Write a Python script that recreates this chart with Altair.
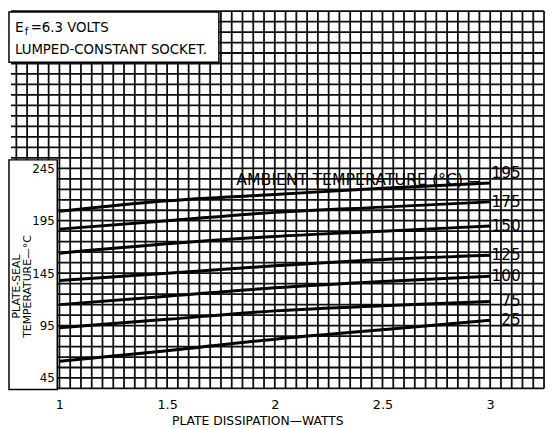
import altair as alt
import pandas as pd
import numpy as np

# ---- data ----
watts = [1.0, 1.5, 2.0, 2.5, 3.0]
ambient = ["195", "175", "150", "125", "100", "75", "25"]
t195 = [204, 214, 220, 226, 231]
t175 = [187, 195, 203, 208, 213]
t150 = [164, 173, 180, 185, 190]
t125 = [138, 145, 152, 158, 162]
t100 = [115, 123, 131, 137, 142]
t75 = [93, 101, 109, 114, 118]
t25 = [61, 71, 82, 91, 100]

x_ticks = [1, 1.5, 2, 2.5, 3]
y_ticks = [45, 95, 145, 195, 245]

# graph-paper grid lines
grid_x = np.round(np.arange(0.8, 3.2501, 0.05), 2)
grid_y = np.arange(35, 396, 10)

rows = []
for name, vals in zip(ambient, [t195, t175, t150, t125, t100, t75, t25]):
    for w, t in zip(watts, vals):
        rows.append({"amb": name, "w": w, "t": t})
df = pd.DataFrame(rows)
df_end = df[df["w"] == watts[-1]]
df_end_rest = df_end[df_end["amb"] != "195"]
df_end_195 = df_end[df_end["amb"] == "195"]

FONT = "DejaVu Sans"
XS = alt.Scale(domain=[0.775, 3.25], nice=False, zero=False)
YS = alt.Scale(domain=[35, 395], nice=False, zero=False)

XAX = alt.Axis(
    values=x_ticks, format="~g", grid=False, ticks=False, domain=False,
    labelFont=FONT, labelFontSize=13, labelColor="black", labelPadding=10,
    title="PLATE DISSIPATION—WATTS", titleFont=FONT, titleFontSize=12.5,
    titleFontWeight="normal", titleColor="black", titlePadding=4, titleX=250,
    zindex=1)
YAX = alt.Axis(
    values=y_ticks, format="d", offset=-49, grid=False, ticks=False, domain=False,
    labelFont=FONT, labelFontSize=12, labelColor="black", labelPadding=5,
    title=["PLATE-SEAL", "TEMPERATURE—°C"], titleFont=FONT, titleFontSize=11,
    titleFontWeight="normal", titleColor="black", titleX=-43, titleY=279,
    titleAlign="center", titleBaseline="middle", titleAngle=270, titleLineHeight=11,
    zindex=1)

GRID_C = "#0d0d0d"
vgrid = alt.Chart(pd.DataFrame({"gx": grid_x})).mark_rule(
    color=GRID_C, strokeWidth=1.8
).encode(x=alt.X("gx:Q", scale=XS, axis=XAX))

hgrid = alt.Chart(pd.DataFrame({"gy": grid_y})).mark_rule(
    color=GRID_C, strokeWidth=1.8
).encode(y=alt.Y("gy:Q", scale=YS, axis=YAX))

one = pd.DataFrame({"k": [0]})
box_top = alt.Chart(one).mark_rect(fill="white", stroke="black", strokeWidth=1.5).encode(
    x=alt.value(-2), x2=alt.value(211), y=alt.value(1), y2=alt.value(52)
)
box_left = alt.Chart(one).mark_rect(fill="white", stroke="black", strokeWidth=1.5).encode(
    x=alt.value(-2), x2=alt.value(47), y=alt.value(151), y2=alt.value(384)
)

hdr_e = alt.Chart(one).mark_text(font=FONT, fontSize=14, align="left", baseline="middle", color="black").encode(
    x=alt.value(4), y=alt.value(17), text=alt.value("E"))
hdr_f = alt.Chart(one).mark_text(font=FONT, fontSize=10, align="left", baseline="middle", color="black").encode(
    x=alt.value(14), y=alt.value(21), text=alt.value("f"))
hdr_v = alt.Chart(one).mark_text(font=FONT, fontSize=13.5, align="left", baseline="middle", color="black").encode(
    x=alt.value(20), y=alt.value(17), text=alt.value("=6.3 VOLTS"))
hdr_s = alt.Chart(one).mark_text(font=FONT, fontSize=13.5, align="left", baseline="middle", color="black").encode(
    x=alt.value(4), y=alt.value(40), text=alt.value("LUMPED-CONSTANT SOCKET."))

curves = alt.Chart(df).mark_line(color="black", strokeWidth=3, interpolate="monotone").encode(
    x=alt.X("w:Q", scale=XS, axis=XAX),
    y=alt.Y("t:Q", scale=YS, axis=YAX),
    detail="amb:N",
)

labels = alt.Chart(df_end_rest).mark_text(
    font=FONT, fontSize=15.5, align="right", baseline="middle", dx=31, color="black"
).encode(x=alt.X("w:Q", scale=XS, axis=XAX), y=alt.Y("t:Q", scale=YS, axis=YAX), text="amb:N")

label195 = alt.Chart(df_end_195).mark_text(
    font=FONT, fontSize=15.5, align="right", baseline="middle", dx=31, dy=-10, color="black"
).encode(x=alt.X("w:Q", scale=XS, axis=XAX), y=alt.Y("t:Q", scale=YS, axis=YAX), text="amb:N")

annot = alt.Chart(df_end_195).mark_text(
    font=FONT, fontSize=16, align="right", baseline="middle", dx=-9, dy=-3, color="black"
).encode(x=alt.X("w:Q", scale=XS, axis=XAX), y=alt.Y("t:Q", scale=YS, axis=YAX),
         text=alt.value("AMBIENT TEMPERATURE (°C) ="))

chart = alt.layer(
    vgrid, hgrid, box_top, box_left, hdr_e, hdr_f, hdr_v, hdr_s,
    curves, labels, label195, annot
).properties(
    width=541, height=383,
    autosize=alt.AutoSizeParams(type="none"),
    padding={"left": 3, "top": 0, "right": 2, "bottom": 37},
    background="white",
).configure_view(stroke="transparent")

chart.save("out.html", embed_options={"renderer": "svg", "actions": False})
